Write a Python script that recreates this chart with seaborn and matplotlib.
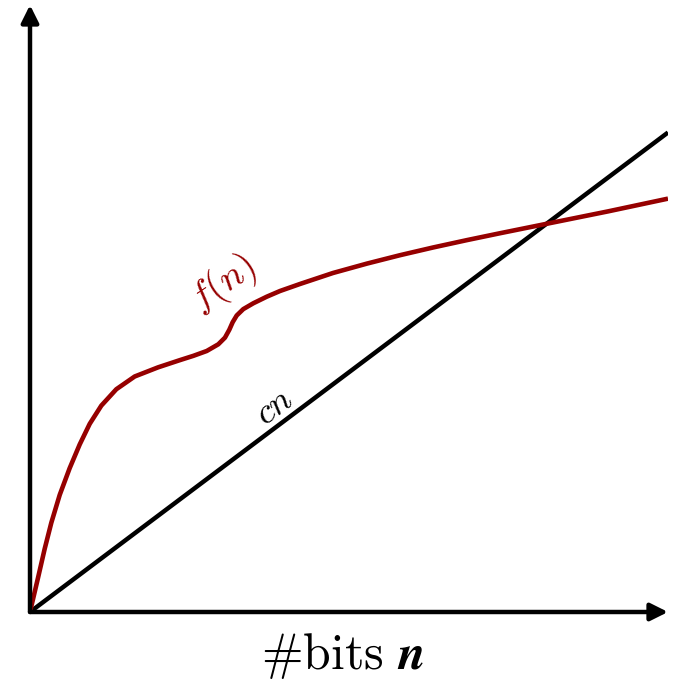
import numpy as np
import pandas as pd
import matplotlib
matplotlib.use("Agg")
import matplotlib.pyplot as plt
import seaborn as sns

# ---- data (arbitrary units) ----
f_x = [0.000, 0.125, 0.230, 0.334, 0.466, 0.622, 0.779, 0.936, 1.118, 1.353,
       1.641, 2.006, 2.351, 2.560, 2.770, 2.951, 3.056, 3.124, 3.177, 3.240,
       3.343, 3.500, 3.710, 3.918, 4.232, 4.749, 5.282, 5.799, 6.317, 6.850,
       7.367, 7.884, 8.119, 9.060, 10.00]
f_y = [0.000, 0.560, 1.040, 1.470, 1.930, 2.370, 2.760, 3.100, 3.400, 3.670,
       3.880, 4.030, 4.150, 4.220, 4.300, 4.410, 4.520, 4.650, 4.775, 4.885,
       4.990, 5.086, 5.194, 5.288, 5.404, 5.585, 5.740, 5.878, 6.005, 6.127,
       6.240, 6.350, 6.400, 6.600, 6.810]
cn_x = [0.0, 10.0]
cn_y = [0.0, 7.9]

f_label = "$f(n)$"
cn_label = "$cn$"
x_label = r"$\#\mathrm{bits}\ \mathbfit{n}$"

RED = "#960000"

sns.set_style("white")
plt.rcParams["mathtext.fontset"] = "cm"

fig = plt.figure(figsize=(6.77, 6.88), dpi=100)
W, H = 677, 688
ax = fig.add_axes([30 / W, (H - 612) / H, 638 / W, 607 / H])

df_f = pd.DataFrame({"x": f_x, "y": f_y})
df_c = pd.DataFrame({"x": cn_x, "y": cn_y})
sns.lineplot(data=df_c, x="x", y="y", sort=False, estimator=None, ax=ax,
             color="black", linewidth=3.2, solid_capstyle="butt")
sns.lineplot(data=df_f, x="x", y="y", sort=False, estimator=None, ax=ax,
             color=RED, linewidth=3.3, solid_joinstyle="round",
             solid_capstyle="butt")

ax.set_xlim(0, 10)
ax.set_ylim(0, 10)
ax.set_xticks([])
ax.set_yticks([])
for s in ax.spines.values():
    s.set_visible(False)
ax.set_xlabel("")
ax.set_ylabel("")

# axes with arrowheads
arrow = dict(arrowstyle="-|>", lw=3.2, color="black", mutation_scale=26,
             shrinkA=0, shrinkB=0)
ax.annotate("", xy=(1, 0), xytext=(0, 0), xycoords="axes fraction",
            arrowprops=arrow, annotation_clip=False)
ax.annotate("", xy=(0, 1), xytext=(0, 0), xycoords="axes fraction",
            arrowprops=arrow, annotation_clip=False)

ax.text(3.03, 5.40, f_label, color=RED, fontsize=28, rotation=34,
        ha="center", va="center")
ax.text(3.82, 3.38, cn_label, color="black", fontsize=26, rotation=37,
        ha="center", va="center")
ax.text(0.49, -0.072, x_label, transform=ax.transAxes, fontsize=36,
        color="black", ha="center", va="center")

fig.savefig("out.png", dpi=100)
